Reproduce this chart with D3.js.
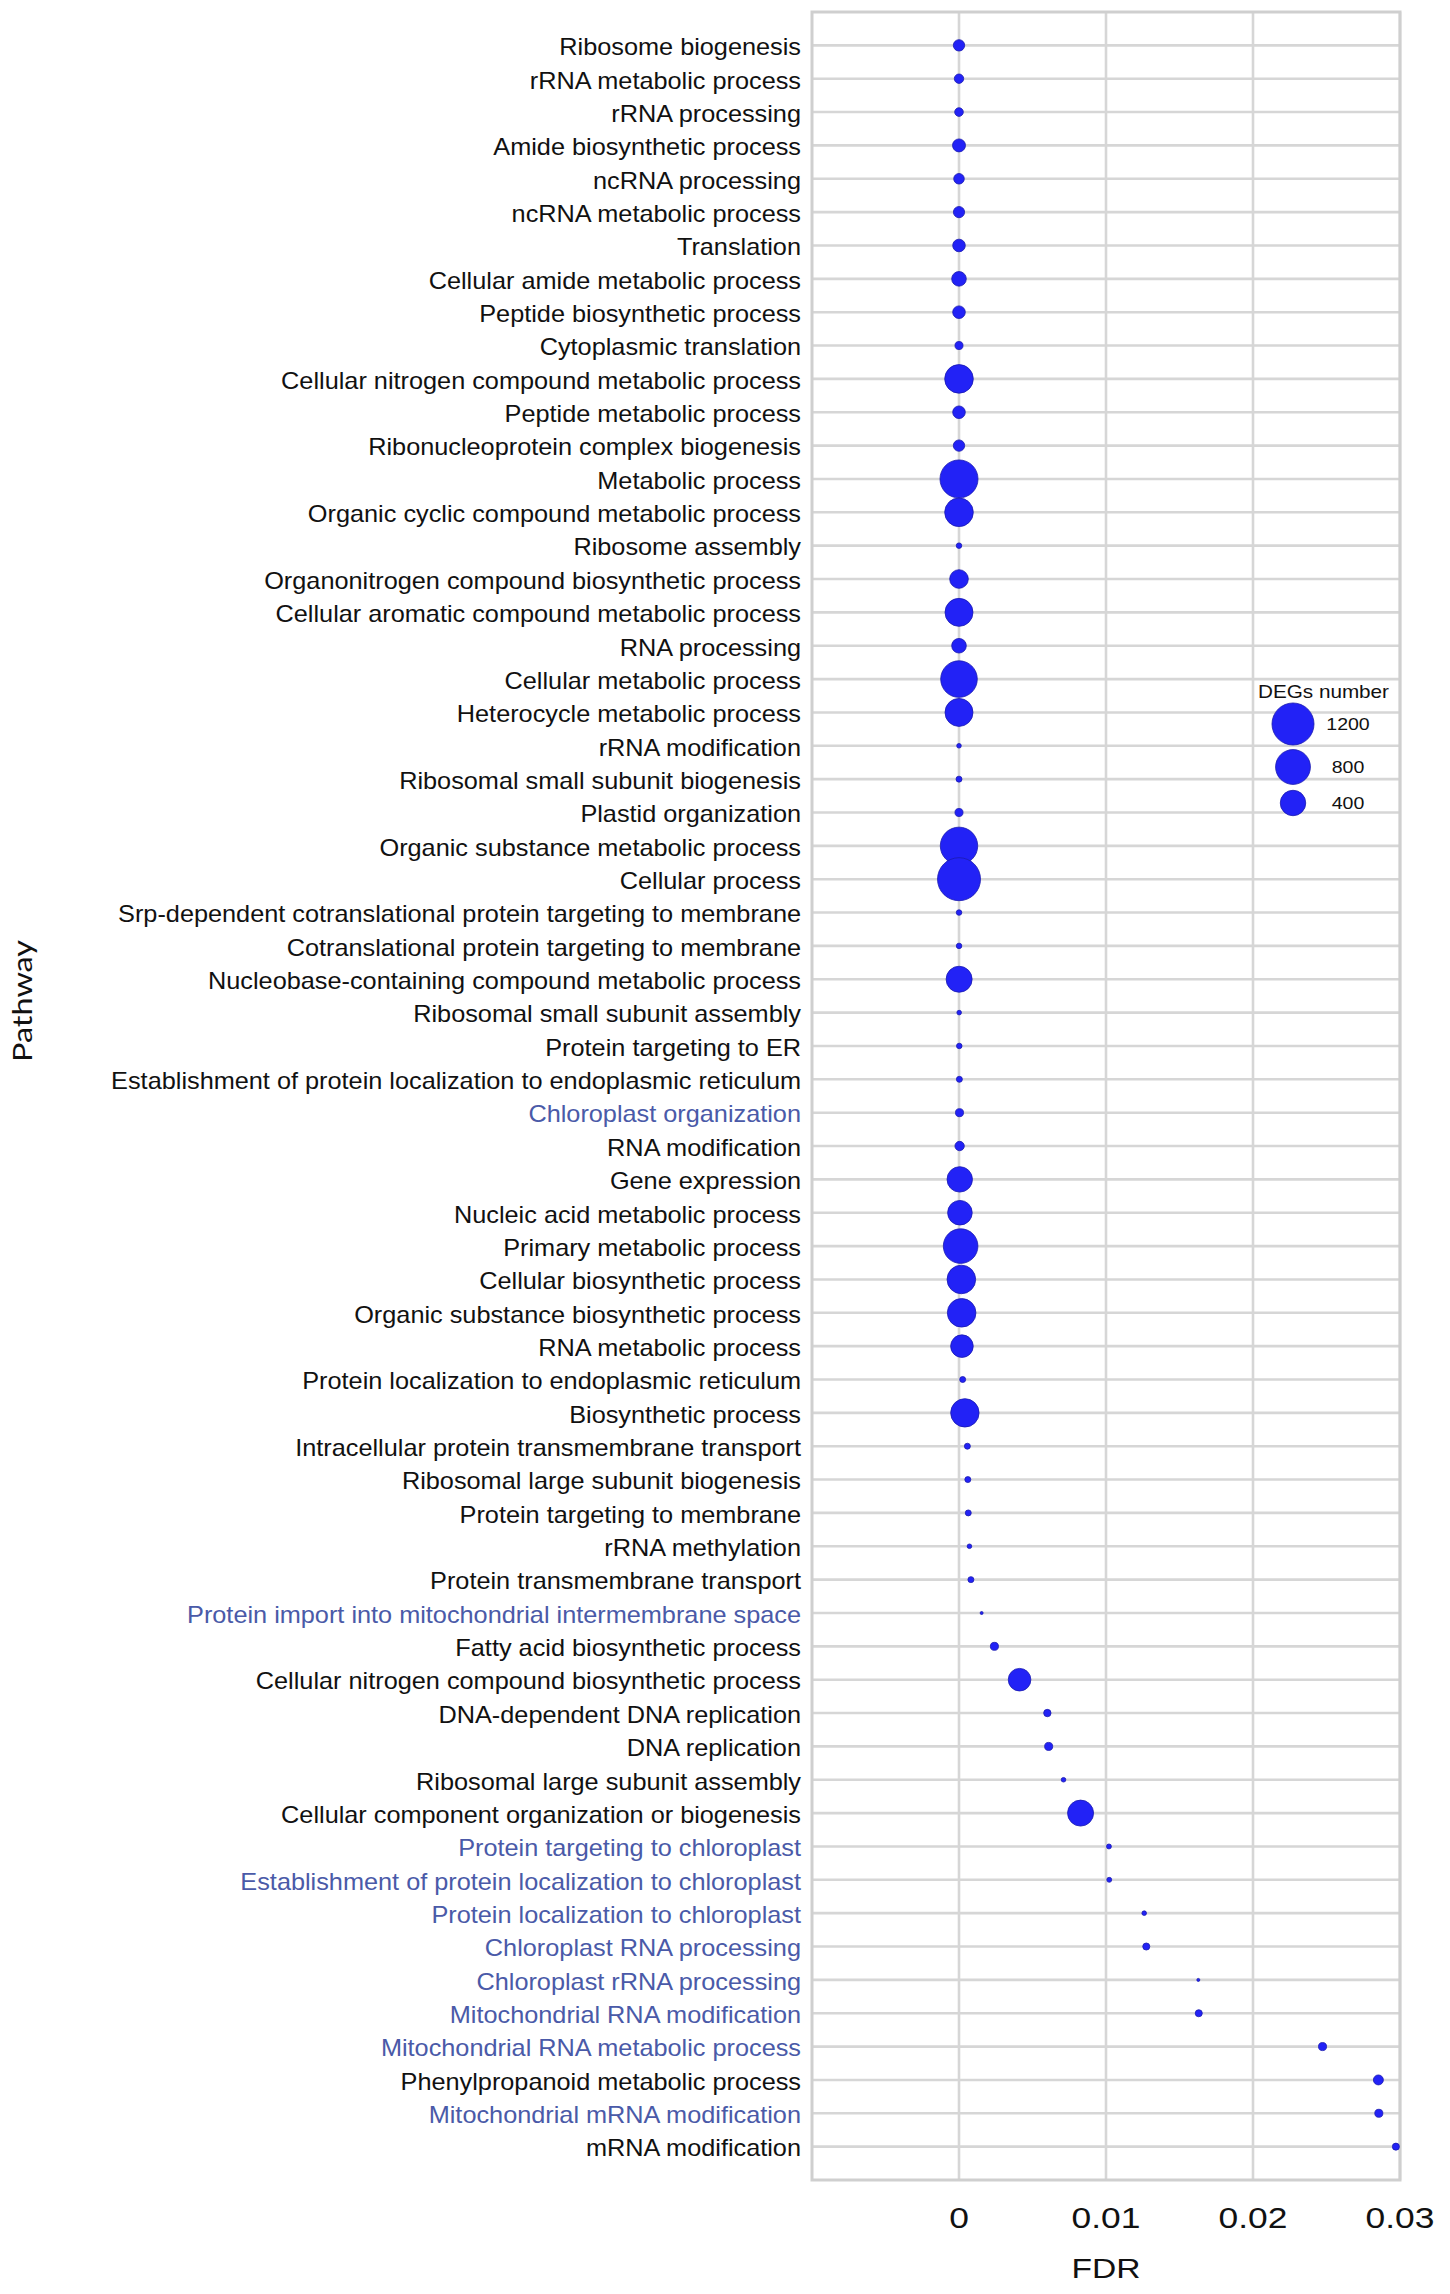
<!DOCTYPE html>
<html><head><meta charset="utf-8">
<script src="https://cdn.jsdelivr.net/npm/d3@7"></script>
<style>body{margin:0;background:#fff}</style>
</head><body>
<svg id="chart" width="1450" height="2294"></svg>
<script>
const pathways = [
"Ribosome biogenesis","rRNA metabolic process","rRNA processing","Amide biosynthetic process","ncRNA processing",
"ncRNA metabolic process","Translation","Cellular amide metabolic process","Peptide biosynthetic process","Cytoplasmic translation",
"Cellular nitrogen compound metabolic process","Peptide metabolic process","Ribonucleoprotein complex biogenesis","Metabolic process","Organic cyclic compound metabolic process",
"Ribosome assembly","Organonitrogen compound biosynthetic process","Cellular aromatic compound metabolic process","RNA processing","Cellular metabolic process",
"Heterocycle metabolic process","rRNA modification","Ribosomal small subunit biogenesis","Plastid organization","Organic substance metabolic process",
"Cellular process","Srp-dependent cotranslational protein targeting to membrane","Cotranslational protein targeting to membrane","Nucleobase-containing compound metabolic process","Ribosomal small subunit assembly",
"Protein targeting to ER","Establishment of protein localization to endoplasmic reticulum","Chloroplast organization","RNA modification","Gene expression",
"Nucleic acid metabolic process","Primary metabolic process","Cellular biosynthetic process","Organic substance biosynthetic process","RNA metabolic process",
"Protein localization to endoplasmic reticulum","Biosynthetic process","Intracellular protein transmembrane transport","Ribosomal large subunit biogenesis","Protein targeting to membrane",
"rRNA methylation","Protein transmembrane transport","Protein import into mitochondrial intermembrane space","Fatty acid biosynthetic process","Cellular nitrogen compound biosynthetic process",
"DNA-dependent DNA replication","DNA replication","Ribosomal large subunit assembly","Cellular component organization or biogenesis","Protein targeting to chloroplast",
"Establishment of protein localization to chloroplast","Protein localization to chloroplast","Chloroplast RNA processing","Chloroplast rRNA processing","Mitochondrial RNA modification",
"Mitochondrial RNA metabolic process","Phenylpropanoid metabolic process","Mitochondrial mRNA modification","mRNA modification"
];
const fdr = [
1.2e-22,3.5e-21,8.9e-21,2.3e-19,6.1e-18,
1.4e-17,3.8e-16,9.2e-16,2.7e-15,5.5e-14,
1.9e-13,4.4e-13,8.1e-12,2.6e-11,7.3e-11,
1.5e-10,4.2e-10,9.6e-10,2.8e-9,6.4e-9,
1.3e-8,3.7e-8,8.5e-8,2.1e-7,4.9e-7,
9.8e-7,2.4e-6,4.1e-6,7.7e-6,1.3e-5,
1.9e-5,2.6e-5,3.4e-5,4.2e-5,5.1e-5,
6.3e-5,0.00011,0.00016,0.00018,0.00020,
0.00025,0.00040,0.00057,0.00060,0.00063,
0.00071,0.00081,0.00154,0.00241,0.00412,
0.00601,0.00610,0.00711,0.00827,0.01020,
0.01022,0.01260,0.01274,0.01628,0.01631,
0.02473,0.02853,0.02856,0.02972
];
const degs = [
60,37,30,83,50,
58,77,111,77,25,
519,77,60,966,519,
10,196,495,111,890,
495,7,12,25,933,
1260,10,10,420,7,
10,12,25,37,399,
371,788,519,519,306,
12,511,12,12,12,
7,12,5,25,306,
20,25,7,420,8,
8,7,18,5,18,
25,43,25,18
];
const bluePathways = [
"Chloroplast organization","Protein import into mitochondrial intermembrane space","Protein targeting to chloroplast",
"Establishment of protein localization to chloroplast","Protein localization to chloroplast","Chloroplast RNA processing",
"Chloroplast rRNA processing","Mitochondrial RNA modification","Mitochondrial RNA metabolic process","Mitochondrial mRNA modification"
];
const xTicks = [0, 0.01, 0.02, 0.03];
const xTickLabels = ["0", "0.01", "0.02", "0.03"];
const legendValues = [1200, 800, 400];
const legendTitle = "DEGs number";
const xTitle = "FDR";
const yTitle = "Pathway";

const svg = d3.select("#chart");
const panel = {left: 812, right: 1400, top: 12, bottom: 2180};
const FONT = "'Liberation Sans', Arial, Helvetica, sans-serif";

const x = d3.scaleLinear().domain([-0.01, 0.03]).range([panel.left, panel.right]);
const y = d3.scalePoint().domain(pathways).range([panel.top, panel.bottom]).padding(1);

const nMin = d3.min(degs), nMax = d3.max(degs);
const rCore = d3.scaleSqrt().domain([0, nMax - nMin]).range([0, 20]);
const r = n => 1.5 + rCore(Math.max(0, n - nMin));

const grid = svg.append("g");
grid.selectAll("line.h").data(pathways).join("line")
  .attr("x1", panel.left).attr("x2", panel.right)
  .attr("y1", d => y(d)).attr("y2", d => y(d))
  .attr("stroke", "#d6d6d6").attr("stroke-width", 2.6);
grid.selectAll("line.v").data(xTicks).join("line")
  .attr("x1", d => x(d)).attr("x2", d => x(d))
  .attr("y1", panel.top).attr("y2", panel.bottom)
  .attr("stroke", "#d6d6d6").attr("stroke-width", 2.6);
svg.append("rect")
  .attr("x", panel.left).attr("y", panel.top)
  .attr("width", panel.right - panel.left).attr("height", panel.bottom - panel.top)
  .attr("fill", "none").attr("stroke", "#cfcfcf").attr("stroke-width", 3);

// labels
svg.append("g").selectAll("text").data(pathways).join("text")
  .attr("transform", d => `translate(801,${y(d) + 1.5}) scale(1.1,1)`)
  .attr("text-anchor", "end").attr("dy", "0.36em")
  .attr("font-family", FONT).attr("font-size", 23)
  .attr("fill", d => bluePathways.includes(d) ? "#4a5aa8" : "#111")
  .text(d => d);

// points
const data = pathways.map((p, i) => ({p, f: fdr[i], n: degs[i]}));
svg.append("g").selectAll("circle").data(data).join("circle")
  .attr("cx", d => x(d.f)).attr("cy", d => y(d.p)).attr("r", d => r(d.n))
  .attr("fill", "#2222f6").attr("stroke", "#1a1ab0").attr("stroke-width", 0.8);

// x tick labels
svg.append("g").selectAll("text").data(xTicks).join("text")
  .attr("transform", d => `translate(${x(d)},2228) scale(1.18,1)`)
  .attr("text-anchor", "middle")
  .attr("font-family", FONT).attr("font-size", 30).attr("fill", "#111")
  .text((d, i) => xTickLabels[i]);

svg.append("text")
  .attr("transform", `translate(${(panel.left + panel.right) / 2},2278) scale(1.2,1)`)
  .attr("text-anchor", "middle")
  .attr("font-family", FONT).attr("font-size", 28).attr("fill", "#111")
  .text(xTitle);

svg.append("text")
  .attr("transform", "translate(32,1001) rotate(-90) scale(1.2,1)")
  .attr("text-anchor", "middle")
  .attr("font-family", "Lato, 'Liberation Sans', sans-serif").attr("font-size", 27).attr("fill", "#111")
  .text(yTitle);

// legend
const lg = svg.append("g");
lg.append("text")
  .attr("transform", "translate(1258,698) scale(1.15,1)")
  .attr("font-family", FONT).attr("font-size", 18).attr("fill", "#111")
  .text(legendTitle);
const legendY = [724, 767, 803];
lg.selectAll("circle").data(legendValues).join("circle")
  .attr("cx", 1293).attr("cy", (d, i) => legendY[i]).attr("r", d => r(d))
  .attr("fill", "#2222f6").attr("stroke", "#1a1ab0").attr("stroke-width", 0.8);
lg.selectAll("text.lab").data(legendValues).join("text")
  .attr("class", "lab")
  .attr("transform", (d, i) => `translate(1348,${legendY[i]}) scale(1.15,1)`)
  .attr("text-anchor", "middle").attr("dy", "0.36em")
  .attr("font-family", FONT).attr("font-size", 17).attr("fill", "#111")
  .text(d => d);
</script>
</body></html>
